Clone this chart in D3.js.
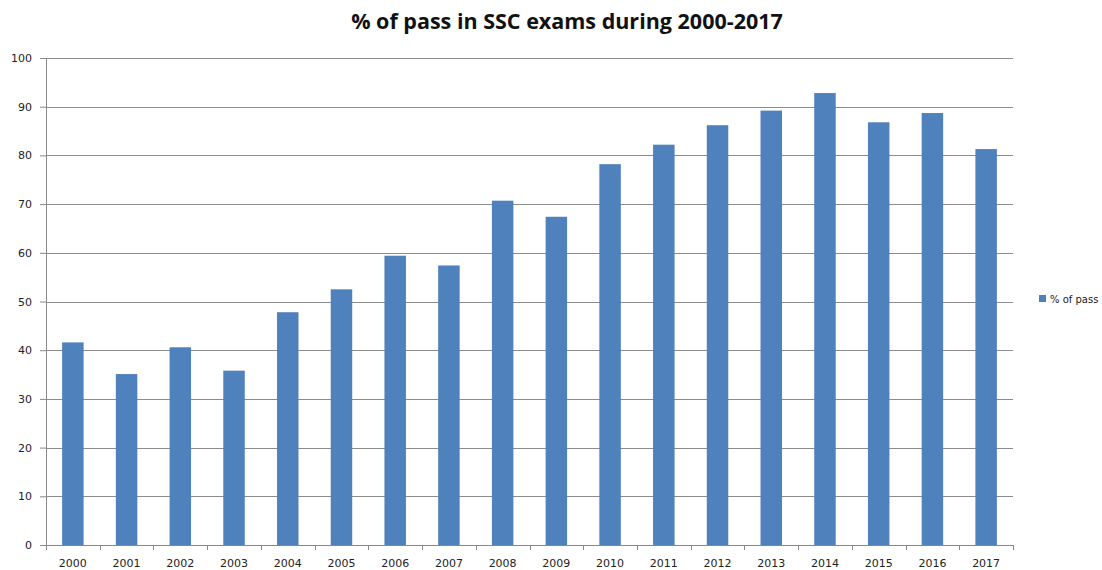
<!DOCTYPE html>
<html>
<head>
<meta charset="utf-8">
<script src="https://cdn.jsdelivr.net/npm/d3@7"></script>
<style>
	body { margin: 0; background: #fff; }
	svg { display: block; }
	.axis text { font-family: "DejaVu Sans", Verdana, sans-serif; font-size: 11px; fill: #222; }
	.axis path, .axis line { stroke: #888; }
	.grid line { stroke: #8c8c8c; }
</style>
</head>
<body>
<svg id="chart" width="1102" height="570"></svg>
<script>
const years = ["2000", "2001", "2002", "2003", "2004", "2005", "2006", "2007", "2008",
	"2009", "2010", "2011", "2012", "2013", "2014", "2015", "2016", "2017"];
const passPct = [41.6, 35.1, 40.6, 35.8, 47.8, 52.5, 59.4, 57.4, 70.7,
	67.4, 78.2, 82.2, 86.2, 89.2, 92.8, 86.8, 88.7, 81.3];
const yTicks = [0, 10, 20, 30, 40, 50, 60, 70, 80, 90, 100];
const seriesName = "% of pass";
const title = "% of pass in SSC exams during 2000-2017";

const svg = d3.select("#chart");
const margin = {top: 58, right: 89, bottom: 25, left: 46};
const width = 1102 - margin.left - margin.right;
const height = 570 - margin.top - margin.bottom;

const g = svg.append("g").attr("transform", `translate(${margin.left},${margin.top})`);

const x = d3.scaleBand().domain(years).range([0, width]).paddingInner(0.6).paddingOuter(0.3);
const y = d3.scaleLinear().domain([0, 100]).range([height, 0]);

// gridlines
g.append("g")
.attr("class", "grid")
.selectAll("line")
.data(yTicks.filter((d) => d > 0))
.enter()
.append("line")
.attr("x1", 0)
.attr("x2", width)
.attr("y1", (d) => Math.round(y(d)) + 0.5)
.attr("y2", (d) => Math.round(y(d)) + 0.5);

// bars
g.selectAll(".bar")
.data(passPct)
.enter()
.append("rect")
.attr("class", "bar")
.attr("x", (d, i) => x(years[i]))
.attr("width", x.bandwidth())
.attr("y", (d) => y(d))
.attr("height", (d) => height - y(d))
.attr("fill", "#4f81bd");

// y axis
const yAxis = g.append("g")
.attr("class", "axis")
.call(d3.axisLeft(y).tickValues(yTicks).tickSize(6).tickPadding(8).tickSizeOuter(0));
yAxis.select(".domain").attr("d", `M0.5,${height}V0`);

// x axis, ticks sit on the band boundaries
const xAxis = g.append("g")
.attr("class", "axis")
.attr("transform", `translate(0,${height})`);
xAxis.append("line")
.attr("x1", 0).attr("x2", width)
.attr("y1", 0.5).attr("y2", 0.5)
.attr("stroke", "#888");
xAxis.selectAll(".tk")
.data(d3.range(years.length + 1))
.enter()
.append("line")
.attr("x1", (i) => Math.round(i * width / years.length) + 0.5)
.attr("x2", (i) => Math.round(i * width / years.length) + 0.5)
.attr("y1", 0).attr("y2", 5)
.attr("stroke", "#888");
xAxis.selectAll("text")
.data(years)
.enter()
.append("text")
.attr("x", (d) => x(d) + x.bandwidth() / 2)
.attr("y", 21.5)
.attr("text-anchor", "middle")
.text((d) => d);

// title
svg.append("text")
.attr("x", 567)
.attr("y", 29)
.attr("text-anchor", "middle")
.attr("font-family", "'Open Sans', sans-serif")
.attr("font-weight", "bold")
.attr("font-size", 21.5)
.attr("fill", "#111")
.text(title);

// legend
const legend = svg.append("g").attr("transform", "translate(1039,295)");
legend.append("rect").attr("width", 7).attr("height", 7).attr("fill", "#4f81bd");
legend.append("text")
.attr("x", 11).attr("y", 7.5)
.attr("font-family", "'DejaVu Sans', Verdana, sans-serif")
.attr("font-size", 10)
.attr("fill", "#222")
.text(seriesName);
</script>
</body>
</html>
